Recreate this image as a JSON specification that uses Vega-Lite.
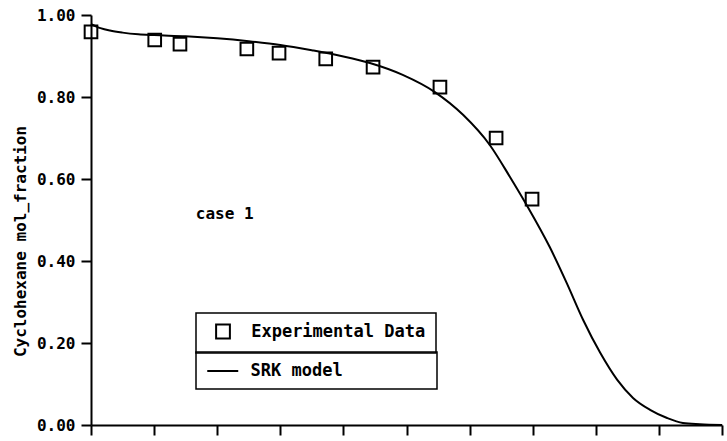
{
  "$schema": "https://vega.github.io/schema/vega-lite/v6.json",
  "width": 631,
  "height": 410,
  "autosize": {"type": "none"},
  "padding": {"left": 91, "top": 15, "right": 5, "bottom": 16},
  "background": "white",
  "datasets": {
    "measured": [
      {"x": 0.0, "y": 0.959, "dataset": "Experimental Data"},
      {"x": 1.01, "y": 0.939, "dataset": "Experimental Data"},
      {"x": 1.41, "y": 0.929, "dataset": "Experimental Data"},
      {"x": 2.47, "y": 0.917, "dataset": "Experimental Data"},
      {"x": 2.98, "y": 0.907, "dataset": "Experimental Data"},
      {"x": 3.72, "y": 0.893, "dataset": "Experimental Data"},
      {"x": 4.47, "y": 0.873, "dataset": "Experimental Data"},
      {"x": 5.53, "y": 0.824, "dataset": "Experimental Data"},
      {"x": 6.42, "y": 0.700, "dataset": "Experimental Data"},
      {"x": 6.99, "y": 0.551, "dataset": "Experimental Data"}
    ],
    "srk": [
      {"x": 0.0, "y": 0.978, "model": "SRK model"},
      {"x": 0.15, "y": 0.968, "model": "SRK model"},
      {"x": 0.3, "y": 0.962, "model": "SRK model"},
      {"x": 0.5, "y": 0.957, "model": "SRK model"},
      {"x": 0.75, "y": 0.953, "model": "SRK model"},
      {"x": 1.0, "y": 0.951, "model": "SRK model"},
      {"x": 1.5, "y": 0.948, "model": "SRK model"},
      {"x": 2.0, "y": 0.943, "model": "SRK model"},
      {"x": 2.5, "y": 0.936, "model": "SRK model"},
      {"x": 3.0, "y": 0.927, "model": "SRK model"},
      {"x": 3.5, "y": 0.914, "model": "SRK model"},
      {"x": 4.0, "y": 0.899, "model": "SRK model"},
      {"x": 4.42, "y": 0.883, "model": "SRK model"},
      {"x": 4.94, "y": 0.854, "model": "SRK model"},
      {"x": 5.45, "y": 0.812, "model": "SRK model"},
      {"x": 5.9, "y": 0.756, "model": "SRK model"},
      {"x": 6.32, "y": 0.683, "model": "SRK model"},
      {"x": 6.64, "y": 0.605, "model": "SRK model"},
      {"x": 6.91, "y": 0.535, "model": "SRK model"},
      {"x": 7.27, "y": 0.434, "model": "SRK model"},
      {"x": 7.54, "y": 0.346, "model": "SRK model"},
      {"x": 7.8, "y": 0.256, "model": "SRK model"},
      {"x": 8.07, "y": 0.176, "model": "SRK model"},
      {"x": 8.34, "y": 0.11, "model": "SRK model"},
      {"x": 8.59, "y": 0.066, "model": "SRK model"},
      {"x": 8.86, "y": 0.037, "model": "SRK model"},
      {"x": 9.13, "y": 0.017, "model": "SRK model"},
      {"x": 9.38, "y": 0.005, "model": "SRK model"},
      {"x": 9.65, "y": 0.002, "model": "SRK model"},
      {"x": 10.0, "y": 0.0, "model": "SRK model"}
    ],
    "note": [
      {"label": "case 1"}
    ]
  },
  "layer": [
    {
      "data": {"name": "srk"},
      "mark": {"type": "line", "interpolate": "monotone", "strokeWidth": 2},
      "encoding": {
        "x": {
          "field": "x",
          "type": "quantitative",
          "scale": {"domain": [0, 10], "nice": false},
          "axis": {
            "values": [0, 1, 2, 3, 4, 5, 6, 7, 8, 9, 10],
            "labels": false,
            "title": null,
            "grid": false,
            "tickSize": 10
          }
        },
        "y": {
          "field": "y",
          "type": "quantitative",
          "scale": {"domain": [0, 1], "nice": false},
          "axis": {
            "values": [0, 0.2, 0.4, 0.6, 0.8, 1.0],
            "format": ".2f",
            "title": "Cyclohexane mol_fraction",
            "grid": false,
            "tickSize": 10,
            "labelPadding": 6,
            "titleY": 226,
            "titlePadding": 8
          }
        },
        "stroke": {
          "field": "model",
          "type": "nominal",
          "scale": {"range": ["black"]},
          "legend": {
            "title": null,
            "orient": "none",
            "legendX": 105,
            "legendY": 337,
            "symbolType": "M-2,0H2",
            "symbolSize": 240,
            "symbolStrokeWidth": 2,
            "symbolStrokeColor": "black",
            "symbolOffset": 7.75,
            "labelOffset": 18.75,
            "labelExpr": "datum.label + '\u2800\u2800\u2800\u2800\u2800\u2800\u2800'"
          }
        }
      }
    },
    {
      "data": {"name": "measured"},
      "mark": {"type": "point", "filled": false, "stroke": "black", "strokeWidth": 2, "size": 160, "opacity": 1},
      "encoding": {
        "x": {"field": "x", "type": "quantitative"},
        "y": {"field": "y", "type": "quantitative"},
        "shape": {
          "field": "dataset",
          "type": "nominal",
          "scale": {"range": ["square"]},
          "legend": {
            "title": null,
            "orient": "none",
            "legendX": 105,
            "legendY": 298,
            "symbolSize": 190,
            "symbolStrokeWidth": 2,
            "symbolStrokeColor": "black",
            "symbolFillColor": "transparent",
            "symbolOffset": 8.5,
            "labelOffset": 19.7
          }
        }
      }
    },
    {
      "data": {"name": "note"},
      "mark": {"type": "text", "align": "left", "baseline": "middle", "font": "DejaVu Sans Mono", "fontWeight": "bold", "fontSize": 16, "color": "black"},
      "encoding": {
        "x": {"datum": 1.66, "type": "quantitative"},
        "y": {"datum": 0.515, "type": "quantitative"},
        "text": {"field": "label", "type": "nominal"}
      }
    }
  ],
  "config": {
    "view": {"stroke": null},
    "font": "DejaVu Sans Mono",
    "axis": {
      "domainColor": "black",
      "domainWidth": 2,
      "tickColor": "black",
      "tickWidth": 2,
      "labelFont": "DejaVu Sans Mono",
      "labelFontWeight": "bold",
      "labelFontSize": 16,
      "labelColor": "black",
      "titleFont": "DejaVu Sans Mono",
      "titleFontWeight": "bold",
      "titleFontSize": 16,
      "titleColor": "black"
    },
    "legend": {
      "strokeColor": "black",
      "strokeWidth": 1.5,
      "padding": 10,
      "labelFont": "DejaVu Sans Mono",
      "labelFontWeight": "bold",
      "labelFontSize": 17,
      "labelColor": "black",
      "labelLimit": 400
    }
  }
}
